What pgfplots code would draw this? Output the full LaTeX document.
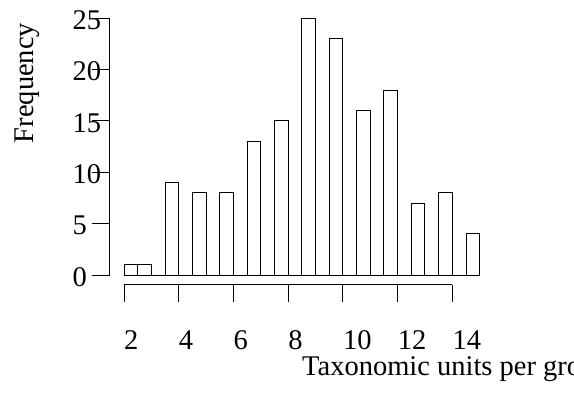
\documentclass[border=0pt]{standalone}
\usepackage{fontspec}
\setmainfont{Liberation Serif}
\usepackage{pgfplots}
\pgfplotsset{compat=1.18}
\begin{document}
\fontsize{28.5}{34}\selectfont
\begin{tikzpicture}
\begin{axis}[
  x=27.36pt, y=10.27pt,
  xmin=1.488, xmax=15, ymin=-0.94, ymax=25,
  axis x line*=bottom, axis y line*=left,
  axis line style={draw=none},
  clip=false,
  xtick={2,4,...,14}, ytick={0,5,...,25},
  minor tick num=0,
  tick align=outside,
  major tick length=17.5pt,
  tick style={black, line width=1pt},
  /pgf/number format/assume math mode=true,
  xticklabel style={anchor=base west, inner sep=0pt, yshift=-47pt},
  yticklabel style={anchor=west, inner sep=0pt, xshift=-20pt, yshift=-2pt},
  xlabel={Taxonomic units per group},
  ylabel={Frequency},
  every axis x label/.style={at={(rel axis cs:0.5193,-0.342)}, anchor=base west, inner sep=0pt},
  every axis y label/.style={at={(rel axis cs:-0.1893,0.757)}, rotate=90, anchor=south, inner sep=0pt},
]
\addplot[ybar interval, fill=white, draw=black, line width=1pt] coordinates {
(2,1)(2.5,1)(3,0)(3.5,9)(4,0)(4.5,8)(5,0)(5.5,8)(6,0)(6.5,13)(7,0)(7.5,15)(8,0)(8.5,25)(9,0)(9.5,23)(10,0)(10.5,16)(11,0)(11.5,18)(12,0)(12.5,7)(13,0)(13.5,8)(14,0)(14.5,4)(15,0)};
\draw[line width=1pt] (axis cs:2,-0.94) -- (axis cs:14,-0.94);
\coordinate (SW) at (rel axis cs:0,0);
\end{axis}
\draw[line width=1pt] ([yshift=9.65pt]SW) -- ([yshift=266.4pt]SW);
\pgfresetboundingbox
\path[use as bounding box] ([shift={(-110pt,-109.3pt)}]SW) rectangle ++(574pt,394pt);
\end{tikzpicture}
\end{document}
